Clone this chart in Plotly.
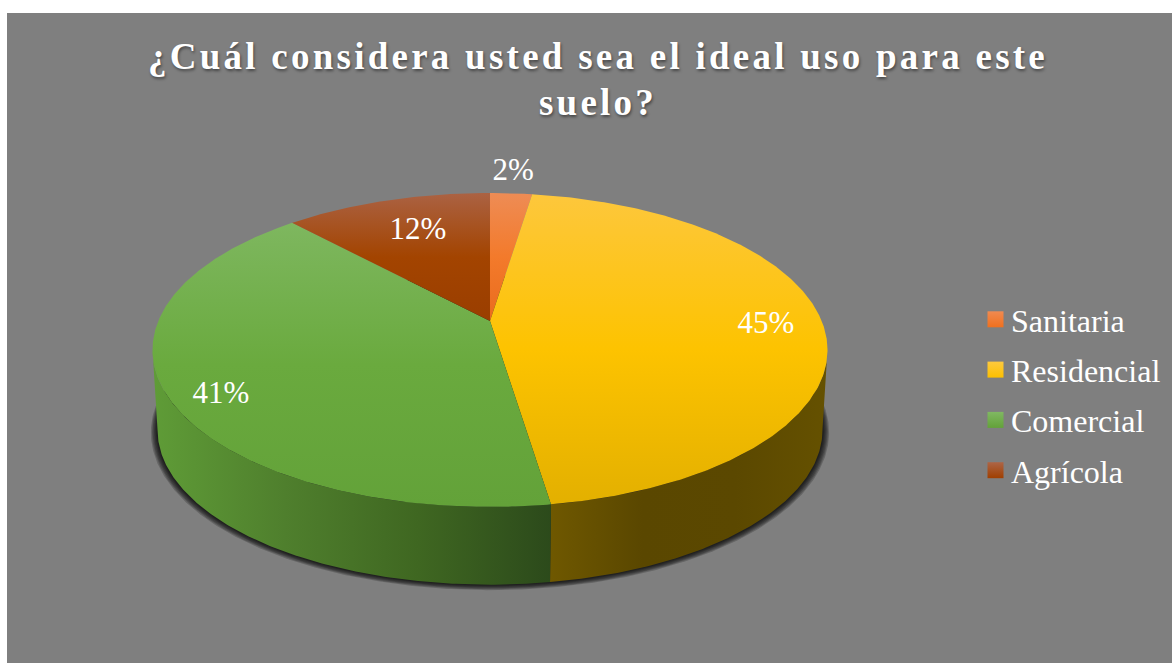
import math
import plotly.graph_objects as go

# Survey answers: share of respondents per land use, clockwise from twelve o'clock
categories = ["Sanitaria", "Residencial", "Comercial", "Agrícola"]
shares = [2.4, 45.2, 40.55, 11.85]
title_lines = ["¿Cuál considera usted sea el ideal uso para este", "suelo?"]

# Colour ramps for the top faces (top to bottom) and the outer wall (left to right)
top_ramps = [
    ["#EE8C55", "#F37A2B", "#EA6C1E"],
    ["#FDC73C", "#FDC300", "#E3B000"],
    ["#7EB75F", "#6AAA3E", "#63A239"],
    ["#AB6243", "#A34400", "#9A3E00"],
]
wall_ramps = [
    None,
    ["#6F5800", "#5A4700", "#5B4800", "#655100"],
    ["#5F9C37", "#4F7F2D", "#3F6721", "#2C4A1B"],
    None,
]
legend_top = ["#F08A50", "#FDC93E", "#80B862", "#AD6546"]
legend_bottom = ["#F0701E", "#FCC000", "#63A239", "#A03F00"]

# Projection of the tilted disc onto the page (page pixels, y grows downward)
HUB_X, HUB_Y = 490.0, 321.0
HALF_W, HALF_H, TILT = 331.7, 151.6, 0.1847
THICKNESS, FAR_SCALE = 80.5, 0.985
RIGHT_LIMB, LEFT_LIMB = 100.6, 259.4


def project(angle, radius=1.0, drop=0.0, scale=1.0, lift=0.0):
    a = math.radians(angle)
    px, py = radius * math.sin(a), radius * math.cos(a)
    w = 1 + TILT * py
    return HUB_X + HALF_W * scale * px / w, HUB_Y + drop + lift - HALF_H * scale * py / w


def arc(start, end, **kw):
    n = max(2, int(abs(end - start)) * 2 + 1)
    pts = [project(start + (end - start) * i / (n - 1), **kw) for i in range(n)]
    return [p[0] for p in pts], [p[1] for p in pts]


def ramp(colors):
    return [[i / (len(colors) - 1), c] for i, c in enumerate(colors)]


fig = go.Figure()

# Soft contact shadow under the disc
for step in range(6, 0, -1):
    xs, ys = arc(0, 360, drop=THICKNESS, scale=FAR_SCALE + step * 0.0033, lift=step * 0.3)
    fig.add_trace(go.Scatter(x=xs, y=ys, mode="lines", line=dict(width=0), fill="toself",
                             fillcolor="rgba(0,0,0,0.20)", hoverinfo="skip", showlegend=False))

# Slice boundaries in degrees
bounds = [0.0]
for v in shares:
    bounds.append(bounds[-1] + v * 3.6)

# Outer wall, only where it faces the viewer
for i in range(len(categories)):
    lo, hi = max(bounds[i], RIGHT_LIMB), min(bounds[i + 1], LEFT_LIMB)
    if lo >= hi or wall_ramps[i] is None:
        continue
    tx, ty = arc(lo, hi)
    bx, by = arc(hi, lo, drop=THICKNESS, scale=FAR_SCALE)
    fig.add_trace(go.Scatter(
        x=tx + bx, y=ty + by, mode="lines", line=dict(width=0), fill="toself",
        fillgradient=dict(type="horizontal", colorscale=ramp(wall_ramps[i]),
                          start=min(tx + bx), stop=max(tx + bx)),
        hoverinfo="skip", showlegend=False))

# Top faces
for i in range(len(categories)):
    ax, ay = arc(bounds[i], bounds[i + 1])
    fig.add_trace(go.Scatter(
        x=[HUB_X] + ax + [HUB_X], y=[HUB_Y] + ay + [HUB_Y], mode="lines",
        line=dict(width=0), fill="toself",
        fillgradient=dict(type="vertical", colorscale=ramp(top_ramps[i]),
                          start=min(ay), stop=max(ay + [HUB_Y])),
        hoverinfo="skip", showlegend=False))

# Percentage labels sit near each slice's bisector
label_radius = [1.223, 0.83, 0.865, 0.726]
label_turn = [-0.3, 0.9, -4.8, 1.6]
lx, ly, ltext = [], [], []
for i, v in enumerate(shares):
    mid = (bounds[i] + bounds[i + 1]) / 2 + label_turn[i]
    x, y = project(mid, radius=label_radius[i], drop=2)
    lx.append(x)
    ly.append(y)
    ltext.append(f"{v:.0f}%")
fig.add_trace(go.Scatter(x=lx, y=ly, mode="text", text=ltext, textposition="middle center",
                         textfont=dict(family="Liberation Serif", size=31, color="white"),
                         hoverinfo="skip", showlegend=False))

# Legend entries
for name, top, bottom in zip(categories, legend_top, legend_bottom):
    fig.add_trace(go.Scatter(x=[None], y=[None], mode="markers", name=name, legendgroup=name,
                             marker=dict(symbol="square", size=17, color=top,
                                         gradient=dict(type="vertical", color=bottom))))

fig.update_layout(
    width=1172, height=663, autosize=False,
    margin=dict(l=7, r=0, t=13, b=0),
    paper_bgcolor="white", plot_bgcolor="#7F7F7F",
    xaxis=dict(range=[7, 1172], visible=False, fixedrange=True),
    yaxis=dict(range=[663, 13], visible=False, fixedrange=True),
    title=dict(text="<br>".join(title_lines), x=598 / 1172, xanchor="center",
               y=1 - 69 / 663, yanchor="top",
               font=dict(family="Liberation Serif", size=37, color="white",
                         weight="bold", shadow="1px 2px 3px rgba(0,0,0,0.45)")),
    legend=dict(x=(971 - 7) / 1165, xanchor="left", y=1 - (292 - 13) / 650, yanchor="top",
                font=dict(family="Liberation Serif", size=32, color="white"),
                bgcolor="rgba(0,0,0,0)", tracegroupgap=5.7, traceorder="grouped",
                itemclick=False, itemdoubleclick=False),
    showlegend=True,
)

# Title tracking, title leading and tighter legend swatches are set on the rendered SVG
post = """
var gd = document.querySelector('.plotly-graph-div');
gd.querySelectorAll('.gtitle').forEach(function(t){ t.style.letterSpacing = '3.25px'; });
gd.querySelectorAll('.gtitle tspan.line').forEach(function(l, i){
  if (i === 1) { l.setAttribute('y', parseFloat(l.getAttribute('y')) - 2.5); }
});
gd.querySelectorAll('.legendsymbols').forEach(function(s){ s.setAttribute('transform', 'translate(4.5,0)'); });
"""
fig.write_html("out.html", post_script=post, config={"displayModeBar": False})
